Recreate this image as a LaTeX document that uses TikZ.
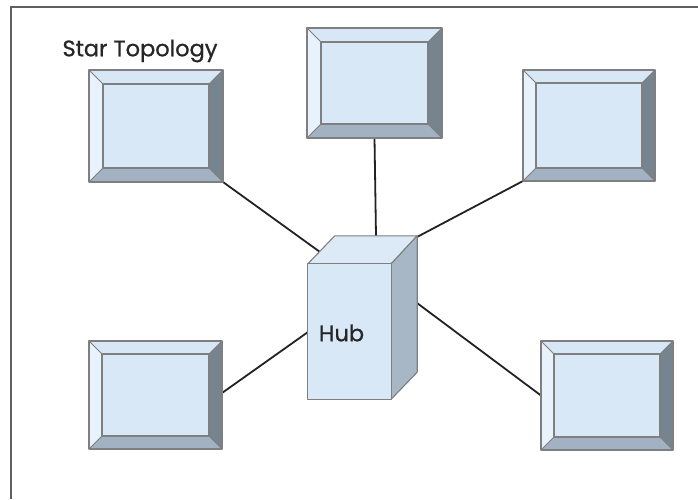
\documentclass[tikz,border=0pt]{standalone}
\usepackage{fontspec}
\setmainfont{Poppins}
\newfontfamily\medfont[FakeBold=0.9]{Poppins}
\usetikzlibrary{calc}
\definecolor{monLeft}{HTML}{E7F2FC}
\definecolor{monTop}{HTML}{D7E7F6}
\definecolor{monRight}{HTML}{76848F}
\definecolor{monBottom}{HTML}{A3B2C2}
\definecolor{monFace}{HTML}{D9E8F6}
\definecolor{edgeGray}{HTML}{7F7F7F}
\definecolor{hubTop}{HTML}{DCEAF7}
\definecolor{hubSide}{HTML}{A8B7C6}
\definecolor{frameGray}{HTML}{606060}
\definecolor{linkCol}{HTML}{222222}
\tikzset{
  monitor/.style={rectangle,inner sep=0pt,outer sep=0pt,minimum width=#1},
  facet/.style={draw=edgeGray,line width=1.1pt,line join=round},
  link/.style={draw=linkCol,line width=1.8pt},
  label/.style={font=\medfont\fontsize{22.5}{23}\selectfont,text=black!85,inner sep=0pt}
}
\newcommand\drawmon[2]{%
  \path (#1.north west) coordinate (#1-A) (#1.north east) coordinate (#1-B)
        (#1.south east) coordinate (#1-C) (#1.south west) coordinate (#1-D)
        ($(#1-A)+(#2,#2)$) coordinate (#1-a) ($(#1-B)+(-#2,#2)$) coordinate (#1-b)
        ($(#1-C)+(-#2,-#2)$) coordinate (#1-c) ($(#1-D)+(#2,-#2)$) coordinate (#1-d);
  \fill[monTop] (#1-A) -- (#1-B) -- (#1-b) -- (#1-a) -- cycle;
  \fill[monLeft] (#1-A) -- (#1-a) -- (#1-d) -- (#1-D) -- cycle;
  \fill[monRight] (#1-B) -- (#1-C) -- (#1-c) -- (#1-b) -- cycle;
  \fill[monBottom] (#1-D) -- (#1-d) -- (#1-c) -- (#1-C) -- cycle;
  \fill[monFace] (#1-a) rectangle (#1-c);
  \draw[facet] (#1-A) rectangle (#1-C);
  \draw[facet] (#1-a) rectangle (#1-c);
  \draw[facet,line width=0.8pt] (#1-A) -- (#1-a) (#1-B) -- (#1-b) (#1-C) -- (#1-c) (#1-D) -- (#1-d);
}
\begin{document}
\begin{tikzpicture}[x=1pt,y=-1pt]
\useasboundingbox (0,0) rectangle (698,499);
% frame
\draw[frameGray,line width=2pt] (11,499) -- (11,7) -- (698,7);
% title
\node[label] (title) at (140,51) {Star Topology};
% monitors
\node[monitor=134pt,minimum height=112pt] (m1) at (156,126) {};
\node[monitor=135pt,minimum height=110pt] (m2) at (374.5,83) {};
\node[monitor=132pt,minimum height=111pt] (m3) at (589,125.5) {};
\node[monitor=133pt,minimum height=108pt] (m4) at (155.5,395) {};
\node[monitor=132pt,minimum height=109pt] (m5) at (607,395.5) {};
% hub
\node[rectangle,inner sep=0pt,minimum width=83pt,minimum height=135pt] (hub) at (349.5,331.5) {};
\path (hub.north west) coordinate (h1) (hub.north east) coordinate (h2)
      (hub.south east) coordinate (h3) (hub.south west) coordinate (h4)
      ($(h1)+(27,-28)$) coordinate (h5) ($(h2)+(26,-28)$) coordinate (h6)
      ($(h3)+(26,-27)$) coordinate (h7);
% connection points on hub
\coordinate (pTL) at (320,252);
\coordinate (pTC) at (376,236);
\coordinate (pTR) at (417,237);
\coordinate (pBL) at (308,332);
\coordinate (pBR) at (417,303);
% links
\draw[link] (m1.south east) -- (pTL);
\draw[link] (m2.south) -- (pTC);
\draw[link] (m3.south west) -- (pTR);
\draw[link] (m4.east) ++(0,-2) coordinate (q4) (q4) -- (pBL);
\draw[link] (pBR) -- (m5.west);
% monitors drawn
\drawmon{m1}{14}
\drawmon{m2}{14}
\drawmon{m3}{13}
\drawmon{m4}{13}
\drawmon{m5}{13}
% hub drawn
\filldraw[facet,fill=hubTop] (h1) -- (h5) -- (h6) -- (h2) -- cycle;
\filldraw[facet,fill=hubSide] (h2) -- (h6) -- (h7) -- (h3) -- cycle;
\filldraw[facet,fill=monFace] (h1) rectangle (h3);
\node[label] (hublabel) at (341.5,333) {Hub};
\end{tikzpicture}
\end{document}
